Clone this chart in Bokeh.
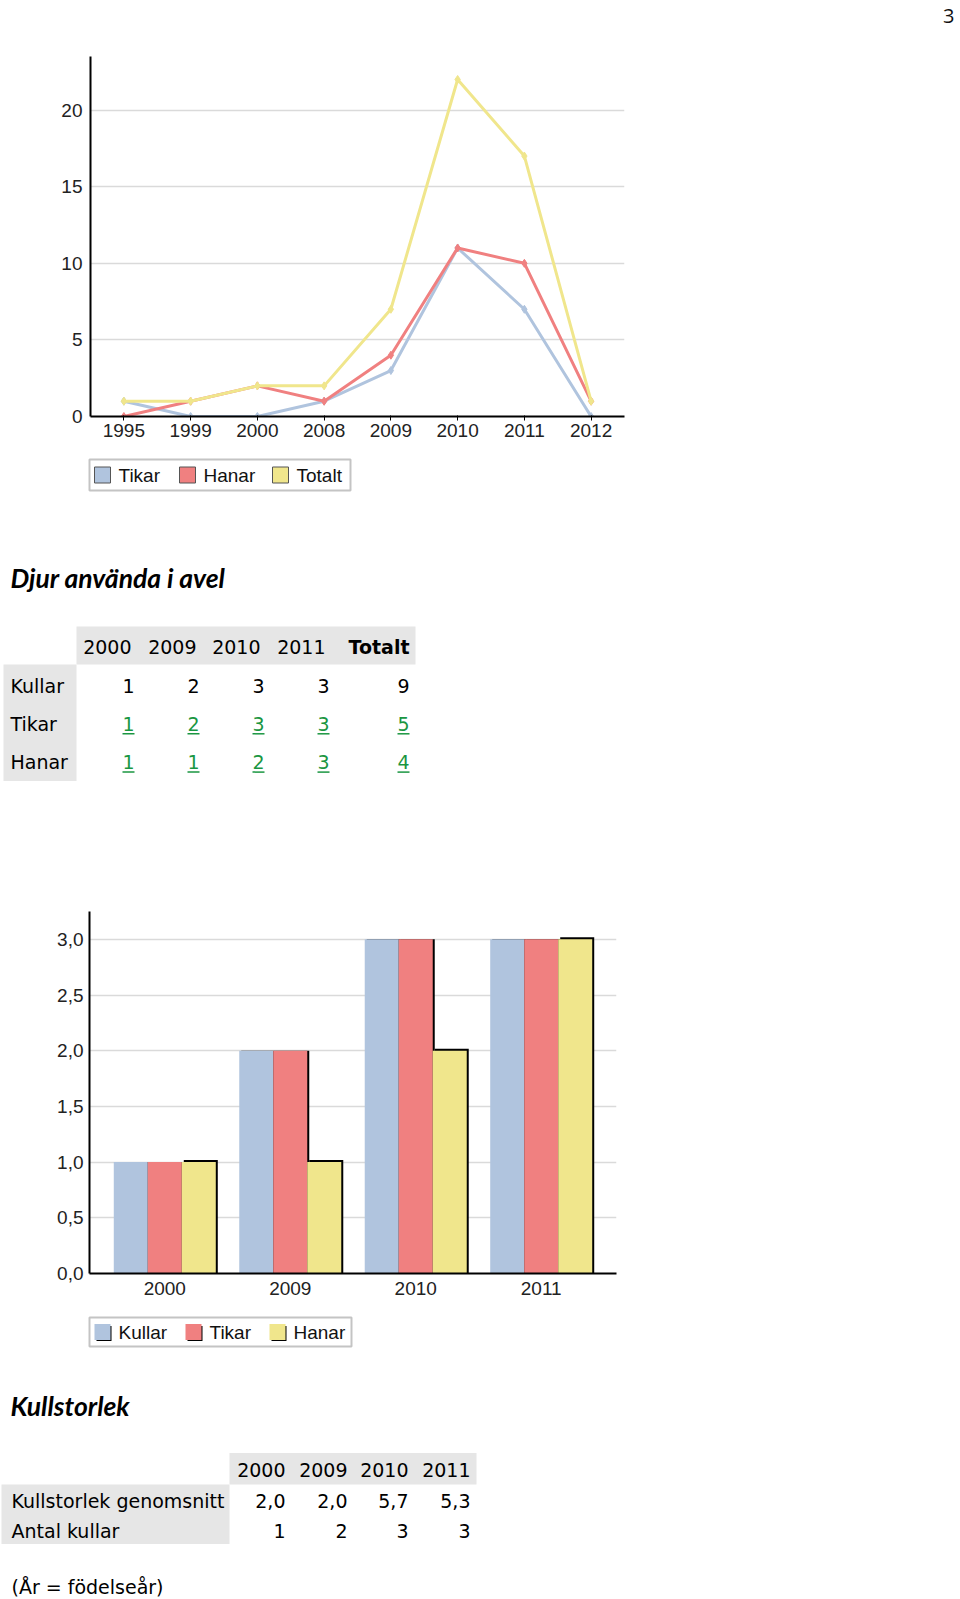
from bokeh.plotting import figure
from bokeh.layouts import column
from bokeh.models import Range1d, FactorRange, FixedTicker, CustomJSTickFormatter
from bokeh.core.properties import value
from bokeh.embed import file_html
from bokeh.resources import INLINE

# ---------------- data ----------------
page_number = "3"

years_line = ["1995", "1999", "2000", "2008", "2009", "2010", "2011", "2012"]
tikar_line = [1, 0, 0, 1, 3, 11, 7, 0]
hanar_line = [0, 1, 2, 1, 4, 11, 10, 1]
totalt_line = [1, 1, 2, 2, 7, 22, 17, 1]
line_series = ["Tikar", "Hanar", "Totalt"]
line_yticks = [0, 5, 10, 15, 20]

t1_title = "Djur använda i avel"
t1_cols = ["2000", "2009", "2010", "2011", "Totalt"]
t1_rows = ["Kullar", "Tikar", "Hanar"]
t1_values = [[1, 2, 3, 3, 9], [1, 2, 3, 3, 5], [1, 1, 2, 3, 4]]
t1_links = [False, True, True]

years_bar = ["2000", "2009", "2010", "2011"]
kullar_bar = [1, 2, 3, 3]
tikar_bar = [1, 2, 3, 3]
hanar_bar = [1, 1, 2, 3]
bar_series = ["Kullar", "Tikar", "Hanar"]
bar_yticks = [0, 0.5, 1, 1.5, 2, 2.5, 3]

t2_title = "Kullstorlek"
t2_cols = ["2000", "2009", "2010", "2011"]
t2_rows = ["Kullstorlek genomsnitt", "Antal kullar"]
t2_values = [["2,0", "2,0", "5,7", "5,3"], ["1", "2", "3", "3"]]
footnote = "(År = födelseår)"

# ---------------- style ----------------
BLUE, RED, YELLOW = "#B0C4DE", "#F08080", "#F0E68C"
SERIES_COLORS = [BLUE, RED, YELLOW]
GRID = "#dadada"
TICK_FONT = "Liberation Sans"
TICK_SIZE = "19px"
TAB_FONT = "DejaVu Sans"
TAB_SIZE = "19px"
HEAD_FONT = "Lato"
HEAD_SIZE = "26.5px"
LINK = "#1a9641"
TABBG = "#e6e6e6"
LEG_BORDER = "#c4c4c4"
W = 960


def base_axes(p):
    for ax in (p.xaxis[0], p.yaxis[0]):
        ax.axis_line_color = "black"
        ax.axis_line_width = 2
        ax.major_label_text_font = TICK_FONT
        ax.major_label_text_font_size = TICK_SIZE
        ax.major_label_text_color = "#222222"
        ax.minor_tick_line_color = None
        ax.minor_tick_out = 0
    p.yaxis[0].major_tick_line_color = None
    p.yaxis[0].major_tick_out = 0
    p.yaxis[0].major_tick_in = 0
    p.xgrid.visible = False
    p.ygrid.grid_line_color = GRID
    p.ygrid.grid_line_width = 1.5
    p.outline_line_color = None


def text_figure(height, y_top):
    """A blank figure whose data coordinates are page pixels (y grows downwards)."""
    p = figure(width=W, height=height, x_range=Range1d(0, W), y_range=Range1d(y_top + height, y_top),
               output_backend="svg", toolbar_location=None, frame_align=False,
               x_axis_location=None, y_axis_location=None,
               min_border_left=0, min_border_right=0, min_border_top=0, min_border_bottom=0)
    p.grid.visible = False
    p.outline_line_color = None
    return p


def draw_legend(p, box, item_x, names, colors, shadow):
    left, right, top, bottom = box
    p.quad(left=[left], right=[right], top=[top], bottom=[bottom], fill_color="white",
           line_color=LEG_BORDER, line_width=2)
    yc = (top + bottom) / 2
    sw = 16
    for x0, name, c in zip(item_x, names, colors):
        if shadow:
            p.quad(left=[x0 + 2], right=[x0 + sw + 1], top=[yc - sw / 2 + 2], bottom=[yc + sw / 2 + 1],
                   fill_color="black", line_color=None)
            p.quad(left=[x0], right=[x0 + sw], top=[yc - sw / 2], bottom=[yc + sw / 2],
                   fill_color=c, line_color=None)
        else:
            p.quad(left=[x0], right=[x0 + sw], top=[yc - sw / 2], bottom=[yc + sw / 2],
                   fill_color=c, line_color="#555555", line_width=1)
        p.text(x=[x0 + sw + 8], y=[yc], text=[name], text_font=value(TICK_FONT), text_font_size=TICK_SIZE,
               text_baseline="middle", text_color="#111111")


# ---------------- figure 0 : page number ----------------
p0 = text_figure(56, 0)
p0.text(x=[954], y=[15], text=[page_number], text_font=value("Open Sans"), text_font_size="20px",
        text_align="right", text_baseline="middle", text_color="#111111")

# ---------------- figure 1 : line chart (page y 56..451) ----------------
p1 = figure(width=W, height=395, x_range=FactorRange(*years_line), y_range=Range1d(0, 23.5),
            output_backend="svg", toolbar_location=None, frame_align=False,
            min_border_left=90, min_border_right=336, min_border_top=0, min_border_bottom=35)
base_axes(p1)
p1.yaxis[0].ticker = FixedTicker(ticks=line_yticks)
p1.ygrid.ticker = FixedTicker(ticks=line_yticks[1:])
p1.yaxis[0].major_label_standoff = 8
p1.xaxis[0].major_tick_out = 4
p1.xaxis[0].major_tick_in = 1
p1.xaxis[0].major_tick_line_color = "black"
p1.xaxis[0].major_label_standoff = 3

for ys, c in zip([tikar_line, hanar_line, totalt_line], SERIES_COLORS):
    p1.line(years_line, ys, line_color=c, line_width=3)
    p1.scatter(years_line, ys, marker="diamond", size=8, fill_color=c, line_color=c)

# ---------------- figure 2 : legend 1 + table 1 (page y 451..900) ----------------
p2 = text_figure(449, 451)
draw_legend(p2, (89, 350, 459, 490), [94, 179, 272], line_series, SERIES_COLORS, shadow=False)

p2.text(x=[10], y=[577], text=[t1_title], text_font=value(HEAD_FONT), text_font_style="bold italic",
        text_font_size=HEAD_SIZE, text_baseline="middle", text_color="black")

t1_head_y, t1_row_y0, t1_pitch = 646, 685, 38.3
t1_val_right = [134, 199, 264, 329, 409]
t1_head_right = [131, 196, 260, 325, 409]
p2.quad(left=[76], right=[415], top=[t1_head_y - 20], bottom=[t1_head_y + 18], fill_color=TABBG, line_color=None)
p2.quad(left=[3], right=[76], top=[t1_head_y + 18], bottom=[t1_row_y0 + (len(t1_rows) - 1) * t1_pitch + 19],
        fill_color=TABBG, line_color=None)
for j, col in enumerate(t1_cols):
    p2.text(x=[t1_head_right[j]], y=[t1_head_y], text=[col], text_font=value(TAB_FONT),
            text_font_size=TAB_SIZE, text_align="right", text_baseline="middle",
            text_font_style="bold" if col == "Totalt" else "normal", text_color="black")
for i, row in enumerate(t1_rows):
    yy = t1_row_y0 + i * t1_pitch
    p2.text(x=[10], y=[yy], text=[row], text_font=value(TAB_FONT), text_font_size=TAB_SIZE,
            text_baseline="middle", text_color="black")
    col_color = LINK if t1_links[i] else "black"
    p2.text(x=t1_val_right, y=[yy] * len(t1_values[i]), text=[str(v) for v in t1_values[i]],
            text_font=value(TAB_FONT), text_font_size=TAB_SIZE, text_align="right",
            text_baseline="middle", text_color=col_color)
    if t1_links[i]:
        p2.segment(x0=[r - 12 for r in t1_val_right], x1=t1_val_right, y0=[yy + 10] * 5, y1=[yy + 10] * 5,
                   line_color=LINK, line_width=1.5)

# ---------------- figure 3 : bar chart (page y 900..1310) ----------------
p3 = figure(width=W, height=410, x_range=Range1d(-0.6, 3.6), y_range=Range1d(0, 3.25),
            output_backend="svg", toolbar_location=None, frame_align=False,
            min_border_left=89, min_border_right=344, min_border_top=11, min_border_bottom=37)
base_axes(p3)
p3.yaxis[0].ticker = FixedTicker(ticks=bar_yticks)
p3.yaxis[0].formatter = CustomJSTickFormatter(code="return tick.toFixed(1).replace('.', ',');")
p3.ygrid.ticker = FixedTicker(ticks=bar_yticks[1:])
p3.yaxis[0].major_label_standoff = 6
xs = list(range(len(years_bar)))
p3.xaxis[0].ticker = FixedTicker(ticks=xs)
p3.xaxis[0].major_label_overrides = {i: y for i, y in zip(xs, years_bar)}
p3.xaxis[0].major_tick_line_color = None
p3.xaxis[0].major_tick_out = 0
p3.xaxis[0].major_tick_in = 0
p3.xaxis[0].major_label_standoff = 8

bw = 0.271
sx, sy = 2 / 125.5, 2 / 111.5
for k, (vals, c) in enumerate(zip([kullar_bar, tikar_bar, hanar_bar], SERIES_COLORS)):
    xk = [x + (k - 1) * bw for x in xs]
    last = (k == len(SERIES_COLORS) - 1)
    p3.vbar(x=[x + sx for x in xk], top=[v + (sy if last else 0) for v in vals], width=bw,
            fill_color="black", line_color=None)
    p3.vbar(x=xk, top=vals, width=bw, fill_color=c, line_color=None)

# ---------------- figure 4 : legend 2 + table 2 (page y 1310..1599) ----------------
p4 = text_figure(289, 1310)
draw_legend(p4, (89, 351, 1317, 1346), [94, 185, 269], bar_series, SERIES_COLORS, shadow=True)

p4.text(x=[10], y=[1405], text=[t2_title], text_font=value(HEAD_FONT), text_font_style="bold italic",
        text_font_size=HEAD_SIZE, text_baseline="middle", text_color="black")
t2_head_y, t2_row_y0, t2_pitch = 1469, 1500.5, 29.5
t2_right = [285, 347, 408, 470]
p4.quad(left=[229], right=[476], top=[t2_head_y - 16.5], bottom=[t2_head_y + 15], fill_color=TABBG, line_color=None)
p4.quad(left=[1], right=[229], top=[t2_head_y + 15], bottom=[t2_row_y0 + (len(t2_rows) - 1) * t2_pitch + 13.5],
        fill_color=TABBG, line_color=None)
p4.text(x=t2_right, y=[t2_head_y] * len(t2_cols), text=t2_cols, text_font=value(TAB_FONT),
        text_font_size=TAB_SIZE, text_align="right", text_baseline="middle", text_color="black")
for i, row in enumerate(t2_rows):
    yy = t2_row_y0 + i * t2_pitch
    p4.text(x=[11], y=[yy], text=[row], text_font=value(TAB_FONT), text_font_size=TAB_SIZE,
            text_baseline="middle", text_color="black")
    p4.text(x=t2_right, y=[yy] * len(t2_values[i]), text=t2_values[i], text_font=value(TAB_FONT),
            text_font_size=TAB_SIZE, text_align="right", text_baseline="middle", text_color="black")
p4.text(x=[11], y=[1586], text=[footnote], text_font=value(TAB_FONT), text_font_size=TAB_SIZE,
        text_baseline="middle", text_color="black")

layout = column(p0, p1, p2, p3, p4, spacing=0)
open("out.html", "w").write(file_html(layout, INLINE))
